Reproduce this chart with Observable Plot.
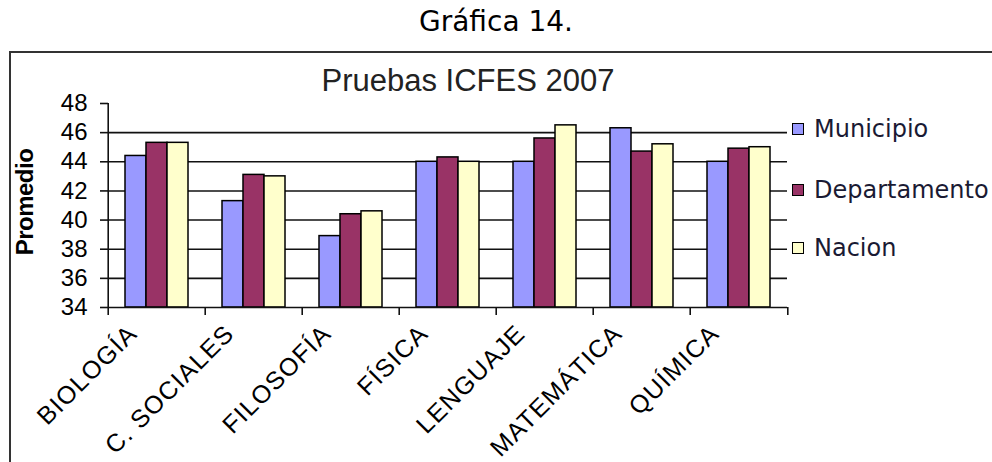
<!DOCTYPE html>
<html><head><meta charset="utf-8">
<script src="https://cdn.jsdelivr.net/npm/d3@7"></script>
<script src="https://cdn.jsdelivr.net/npm/@observablehq/plot@0.6"></script>
<style>
body{margin:0;width:992px;height:462px;position:relative;overflow:hidden;background:#fff;font-family:"Liberation Sans",Arial,sans-serif;}
#hdr{position:absolute;left:0;top:5px;width:992px;text-align:center;font-family:"DejaVu Sans";font-size:28px;line-height:34px;color:#000;}
#box{position:absolute;left:9px;top:51px;width:1000px;height:500px;border-left:2px solid #333;border-top:2px solid #333;}
#title{position:absolute;left:0;width:936px;top:65px;text-align:center;font-family:"Liberation Sans";font-size:31px;line-height:31px;color:#222;}
#ylab{position:absolute;left:25px;top:202px;transform:translate(-50%,-50%) rotate(-90deg);font-family:"Liberation Sans";font-weight:bold;font-size:24px;letter-spacing:-0.5px;white-space:nowrap;color:#000;}
#chart{position:absolute;left:0;top:52px;}
.leg{position:absolute;left:792px;font-family:"DejaVu Sans";font-size:24px;line-height:30px;color:#1a1a33;display:flex;align-items:center;white-space:nowrap;}
.sw{width:10px;height:10px;border:1.5px solid #000;margin-right:10px;}
#chart svg [aria-label="fx-axis tick label"] text{letter-spacing:1.2px;}
</style></head>
<body>
<div id="hdr">Gráfica 14.</div>
<div id="box"></div>
<div id="title">Pruebas ICFES 2007</div>
<div id="ylab">Promedio</div>
<div id="chart"></div>
<div id="legend"></div>
<script>
const categories = ["BIOLOGÍA","C. SOCIALES","FILOSOFÍA","FÍSICA","LENGUAJE","MATEMÁTICA","QUÍMICA"];
const series = ["Municipio","Departamento","Nacion"];
const municipio = [44.4, 41.3, 38.9, 44.0, 44.0, 46.3, 44.0];
const departamento = [45.3, 43.1, 40.4, 44.3, 45.6, 44.7, 44.9];
const nacion = [45.3, 43.0, 40.6, 44.0, 46.5, 45.2, 45.0];
const yTicks = [34, 36, 38, 40, 42, 44, 46, 48];
const gridValues = [36, 38, 40, 42, 44, 46];
const colors = ["#9999FF", "#993366", "#FFFFCC"];

const values = [municipio, departamento, nacion];
const rows = [];
categories.forEach((c, i) => series.forEach((s, j) => rows.push({cat: c, serie: s, value: values[j][i]})));
const yMin = d3.min(yTicks), yMax = d3.max(yTicks);

const W = 992, ML = 106, MR = 203;
const step = (W - ML - MR) / categories.length;
const first = categories[0], last = categories[categories.length - 1];

const chart = Plot.plot({
  width: W, height: 410,
  marginLeft: ML, marginRight: MR, marginTop: 51, marginBottom: 155,
  style: {fontFamily: "Liberation Sans, Arial, sans-serif", color: "#000", background: "transparent"},
  fx: {domain: categories, padding: 0, axis: null, label: null},
  x: {domain: series, paddingInner: 0, paddingOuter: 0.75, axis: null, label: null},
  y: {domain: [yMin, yMax], axis: null, label: null},
  color: {domain: series, range: colors},
  marks: [
    Plot.ruleY(gridValues, {stroke: "#111", strokeWidth: 1.6}),
    Plot.barY(rows, {fx: "cat", x: "serie", y1: () => yMin, y2: "value", fill: "serie", stroke: "#000", strokeWidth: 1.5}),
    Plot.ruleY([yMin], {stroke: "#111", strokeWidth: 1.6}),
    Plot.gridFx({ticks: [first], dx: -step / 2, stroke: "#111", strokeOpacity: 1, strokeWidth: 1.6}),
    Plot.axisY({ticks: yTicks, tickSize: 8, tickPadding: 13, fontSize: 24, label: null, stroke: "#111", strokeWidth: 1.6}),
    Plot.axisFx({anchor: "bottom", tickSize: 0, tickRotate: -45, fontSize: 25, label: null, dx: -24, dy: 10}),
    Plot.axisFx({anchor: "bottom", tickSize: 8, tickFormat: () => "", label: null, dx: -step / 2, stroke: "#111", strokeWidth: 1.6}),
    Plot.axisFx({anchor: "bottom", ticks: [last], tickSize: 8, tickFormat: () => "", label: null, dx: step / 2, stroke: "#111", strokeWidth: 1.6})
  ]
});
document.getElementById("chart").appendChild(chart);

const legendY = [129, 190, 248];
const leg = document.getElementById("legend");
series.forEach((s, j) => {
  const d = document.createElement("div");
  d.className = "leg";
  d.style.top = (legendY[j] - 15) + "px";
  const sw = document.createElement("span");
  sw.className = "sw";
  sw.style.background = colors[j];
  d.appendChild(sw);
  d.appendChild(document.createTextNode(s));
  leg.appendChild(d);
});
</script>
</body></html>
